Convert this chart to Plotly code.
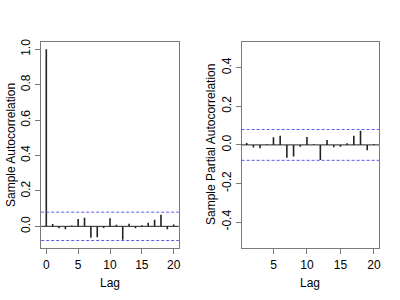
import plotly.graph_objects as go

lags_acf = list(range(0, 21))
acf_vals = [1.0, 0.013, -0.011, -0.017, 0.004, 0.041, 0.048, -0.065, -0.061, -0.009,
            0.045, 0.009, -0.076, 0.015, -0.011, 0.006, 0.020, 0.037, 0.065, -0.017, 0.011]
lags_pacf = list(range(1, 21))
pacf_vals = [0.010, -0.014, -0.017, 0.003, 0.040, 0.047, -0.067, -0.060, -0.010, 0.041,
             0.003, -0.078, 0.026, -0.012, -0.010, 0.009, 0.047, 0.074, -0.028, 0.003]
ci = 0.08

acf_xticks = [0, 5, 10, 15, 20]
pacf_xticks = [5, 10, 15, 20]
acf_yticks = [0.0, 0.2, 0.4, 0.6, 0.8, 1.0]
pacf_yticks = [-0.4, -0.2, 0.0, 0.2, 0.4]

FONT = "Liberation Sans, Arial, Helvetica, sans-serif"
AXC = "#7a7a7a"

def stems(xs, ys):
    sx, sy = [], []
    for x, y in zip(xs, ys):
        sx += [x, x, None]
        sy += [0, y, None]
    return sx, sy

def fmt(vals):
    return ["%.1f" % v for v in vals]

fig = go.Figure()
ax, ay = stems(lags_acf, acf_vals)
fig.add_trace(go.Scatter(x=ax, y=ay, mode="lines", line=dict(color="#222222", width=1.6),
                         xaxis="x", yaxis="y", showlegend=False, hoverinfo="skip"))
px_, py_ = stems(lags_pacf, pacf_vals)
fig.add_trace(go.Scatter(x=px_, y=py_, mode="lines", line=dict(color="#222222", width=1.6),
                         xaxis="x2", yaxis="y2", showlegend=False, hoverinfo="skip"))

shapes = []
for xr, yr in [("x", "y"), ("x2", "y2")]:
    shapes.append(dict(type="line", xref=xr + " domain", yref=yr, x0=0, x1=1, y0=0, y1=0,
                       line=dict(color="#222222", width=1)))
    for v in (ci, -ci):
        shapes.append(dict(type="line", xref=xr + " domain", yref=yr, x0=0, x1=1, y0=v, y1=v,
                           line=dict(color="#5a5af0", width=1, dash="3px,2px")))

common_axis = dict(showline=True, mirror=True, linecolor=AXC, linewidth=1, ticks="outside",
                   ticklen=5, tickcolor=AXC, showgrid=False, zeroline=False, automargin=False,
                   tickfont=dict(family=FONT, size=12, color="#000"))

ann_font = dict(family=FONT, size=12, color="#000")
fig.update_layout(
    width=400, height=300, margin=dict(l=0, r=0, t=0, b=0, autoexpand=False),
    paper_bgcolor="white", plot_bgcolor="white",
    shapes=shapes,
    xaxis=dict(domain=[0.103, 0.447], range=[-0.8, 20.8], tickvals=acf_xticks, anchor="y",
               **common_axis),
    yaxis=dict(domain=[0.173, 0.861], range=[-0.123, 1.043], tickvals=acf_yticks,
               ticktext=fmt(acf_yticks), tickangle=-90, anchor="x", **common_axis),
    xaxis2=dict(domain=[0.604, 0.9475], range=[0.24, 20.76], tickvals=pacf_xticks, anchor="y2",
                **common_axis),
    yaxis2=dict(domain=[0.173, 0.861], range=[-0.535, 0.535], tickvals=pacf_yticks,
                ticktext=fmt(pacf_yticks), tickangle=-90, anchor="x2", **common_axis),
    annotations=[
        dict(text="Lag", x=110 / 400, y=1 - 283 / 300, xref="paper", yref="paper",
             xanchor="center", yanchor="middle", showarrow=False, font=ann_font),
        dict(text="Lag", x=310 / 400, y=1 - 283 / 300, xref="paper", yref="paper",
             xanchor="center", yanchor="middle", showarrow=False, font=ann_font),
        dict(text="Sample Autocorrelation", x=11 / 400, y=1 - 145 / 300, xref="paper",
             yref="paper", xanchor="center", yanchor="middle", showarrow=False,
             textangle=-90, font=ann_font),
        dict(text="Sample Partial Autocorrelation", x=211 / 400, y=1 - 145 / 300, xref="paper",
             yref="paper", xanchor="center", yanchor="middle", showarrow=False,
             textangle=-90, font=ann_font),
    ],
)

fig.write_html("out.html", config={"displayModeBar": False},
               post_script="document.body.style.margin='0';document.body.style.padding='0';")
